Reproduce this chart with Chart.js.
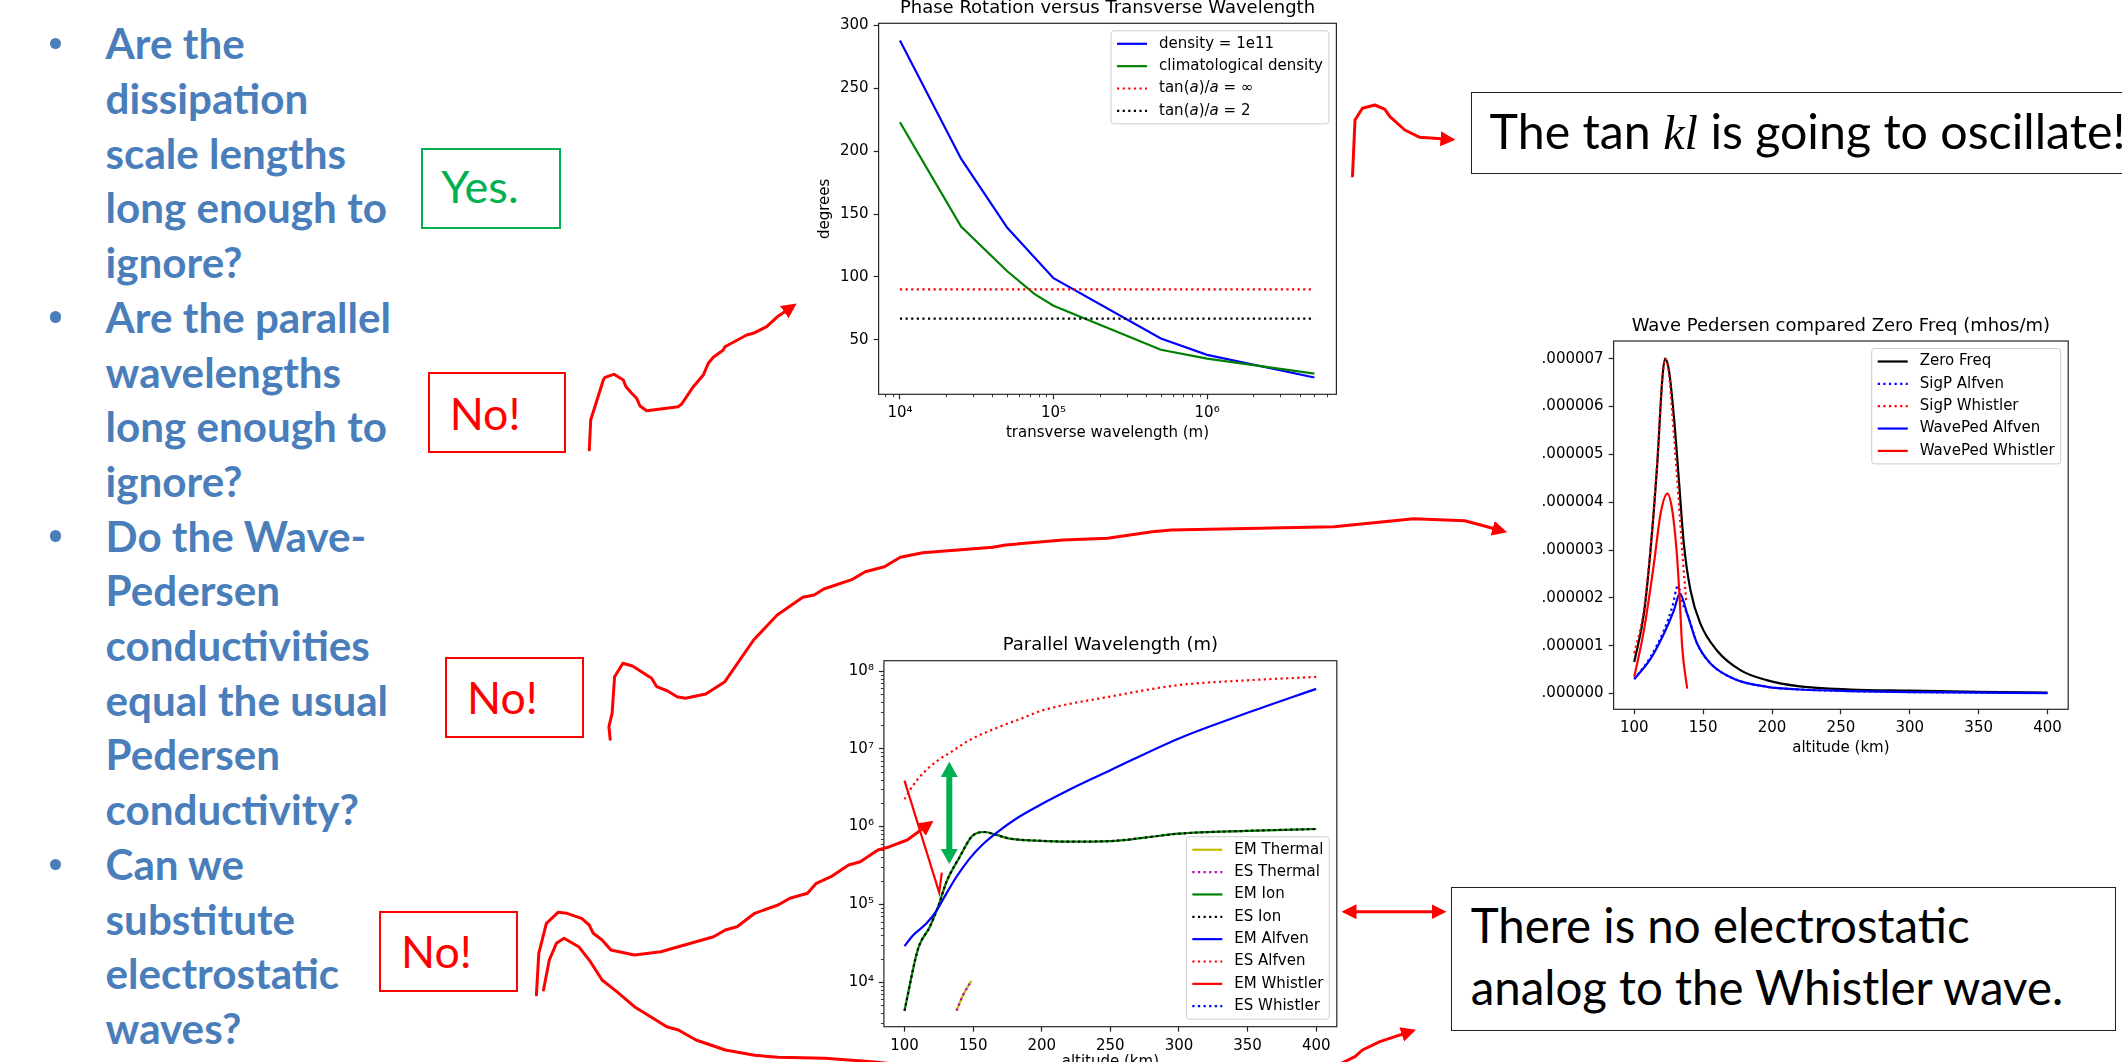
<!DOCTYPE html>
<html>
<head>
<meta charset="utf-8">
<script src="https://cdn.jsdelivr.net/npm/chart.js@4.4.1/dist/chart.umd.min.js"></script>
<style>
    html, body { margin: 0; padding: 0; }
    body { width: 2122px; height: 1062px; position: relative; overflow: hidden; background: #fff; font-family: Lato, "Open Sans", sans-serif; }
    canvas { position: absolute; }
    .txt { position: absolute; white-space: nowrap; }
    .box { position: absolute; box-sizing: border-box; }
    .dot { position: absolute; width: 11.5px; height: 11.5px; border-radius: 50%; background: #4a7ebb; }
    #bullets { font-weight: 700; color: #4a7ebb; font-size: 42px; line-height: 54.7px; }
    .red { color: #ff0000; font-size: 46px; line-height: 1.2; }
    .note { color: #000; font-size: 46px; }
    .math { font-family: "Liberation Serif", serif; font-style: italic; }
</style>
</head>
<body>

<!-- left hand questions -->
<div id="bullets" class="txt">Are the<br>dissipation<br>scale lengths<br><span class="ref">long enough to</span><br>ignore?<br>Are the parallel<br>wavelengths<br>long enough to<br>ignore?<br>Do the Wave-<br>Pedersen<br>conductivities<br>equal the usual<br>Pedersen<br>conductivity?<br>Can we<br>substitute<br>electrostatic<br>waves?</div>
<div class="dot" style="left:49.75px;top:37.5px"></div>
<div class="dot" style="left:49.75px;top:311px"></div>
<div class="dot" style="left:49.75px;top:530.3px"></div>
<div class="dot" style="left:49.75px;top:858.5px"></div>

<!-- answer boxes -->
<div class="box" style="left:421.4px;top:147.6px;width:139.3px;height:81px;border:2px solid #00b050"></div>
<div class="box" style="left:427.5px;top:372.4px;width:138.9px;height:81px;border:2px solid #ff0000"></div>
<div class="box" style="left:445px;top:657.2px;width:139.4px;height:81.3px;border:2px solid #ff0000"></div>
<div class="box" style="left:378.9px;top:910.6px;width:138.9px;height:81.2px;border:2px solid #ff0000"></div>
<div id="yes" class="txt red" style="color:#00b050">Yes.</div>
<div id="no1" class="txt red">No!</div>
<div id="no2" class="txt red">No!</div>
<div id="no3" class="txt red">No!</div>

<!-- note boxes -->
<div class="box" style="left:1471.2px;top:92.3px;width:680px;height:81.7px;border:1.5px solid #222"></div>
<div id="tanNote" class="txt note" style="line-height:1.2"><span class="ref">The tan <span class="math">kl</span> is going to oscillate</span>!</div>
<div class="box" style="left:1450.7px;top:887.3px;width:664.9px;height:143.4px;border:1.5px solid #222"></div>
<div id="esNote" class="txt note" style="line-height:61.7px">There is no electrostatic<br><span class="ref">analog to the Whistler wave.</span></div>

<canvas id="phaseChart" width="560" height="454" style="left:800px;top:-4px"></canvas>
<canvas id="pedersenChart" width="580" height="470" style="left:1520px;top:300px"></canvas>
<canvas id="parallelChart" width="560" height="460" style="left:800px;top:620px"></canvas>

<!-- hand drawn arrows -->
<svg width="2122" height="1062" style="position:absolute;left:0;top:0;pointer-events:none">
    <defs>
        <marker id="head" viewBox="0 0 10 10" refX="3" refY="5" markerWidth="5" markerHeight="5" orient="auto-start-reverse">
            <path d="M0,0 L10,5 L0,10 z" fill="#ff0000"/>
        </marker>
    </defs>
    <g fill="none" stroke="#ff0000" stroke-width="3" stroke-linejoin="round" stroke-linecap="round">
        <path marker-end="url(#head)" d="M589.3,450 L590.7,420 L593.3,411.7 L603.3,380 L605,377.3 L614,374.3 L623.3,380 L626,386.7 L631.7,393.3 L636.7,398.3 L640,406 L646.7,410.7 L678.3,406.7 L681.7,404 L693.3,386.7 L703.3,375 L708.3,363.3 L713.3,357.3 L723.3,350 L725,346.7 L746.7,335 L753.3,333.3 L766.7,326.7 L776.7,317.3 L788,309.5"/>
        <path marker-end="url(#head)" d="M610.2,739.3 L608.9,726.7 L612.1,713.3 L614.6,676.7 L622.9,663.3 L632.5,666 L651.6,678.3 L656.7,686.7 L667.6,691 L677.1,696.7 L685.4,698.3 L705.8,694 L724.9,681.7 L753.6,640 L777.2,615 L802.8,597.3 L814.2,595 L823.8,589 L852.5,579.3 L865.3,571.7 L884.4,566.7 L900.3,557.3 L922.7,552.7 L992.8,547.3 L1005.6,545 L1063,540 L1107.6,538.3 L1152.2,531.7 L1171.4,530 L1334,526.7 L1413.7,518.7 L1464.7,520.7 L1480.7,525 L1497,529.5"/>
        <path marker-end="url(#head)" d="M536.4,995 L538.8,953.3 L546.4,923.3 L558.1,912.3 L566.9,913.3 L581.6,918.3 L589.2,925 L593.3,933.3 L602.1,940 L610.9,950 L634.4,955 L660.8,951.7 L696,941.7 L713.6,936.7 L725.3,930 L737.1,926.7 L754.7,913.3 L778.1,905 L789.9,898.3 L807.5,893.3 L816.3,883.3 L831,876.7 L848.6,865 L860.3,861.7 L877.9,850 L889.6,846.7 L907.2,840 L925,827"/>
        <path marker-end="url(#head)" d="M543.5,990 L549.3,960 L556.4,943.3 L564,938.3 L578.7,946.7 L590.4,961.7 L602.1,980 L616.8,991.7 L634.4,1006.7 L666.7,1026.7 L678.4,1030 L696,1040 L725.3,1050 L754.7,1055.3 L778.1,1057.3 L825.1,1058.3 L872,1061.7 L1000,1075 L1300,1080 L1340,1064 L1355,1056.7 L1362.4,1050 L1379.9,1041.7 L1394.9,1036.7 L1406,1033"/>
        <path marker-start="url(#head)" marker-end="url(#head)" d="M1352,911.7 L1436,911.7"/>
        <path marker-end="url(#head)" d="M1352.5,176 L1355,120 L1362.4,108.3 L1374.9,105 L1384.9,109.3 L1389.9,116.7 L1404.8,130 L1419.8,137.3 L1445,139"/>
    </g>
    <polygon fill="#00b050" points="949.3,761.7 957.8,777 952.3,777 952.3,849 957.8,849 949.3,864 940.8,849 946.3,849 946.3,777 940.8,777"/>
</svg>

<script>
// ---------- Phase Rotation versus Transverse Wavelength ----------
const densityWavelength = [1e4, 2.5e4, 5e4, 1e5, 5e5, 1e6, 5e6];
const densityPhase = [288, 194, 139, 99, 51, 38, 20];
const climWavelength = [1e4, 2.5e4, 5e4, 7.5e4, 1e5, 5e5, 1e6, 5e6];
const climPhase = [223, 140, 104.5, 86.5, 77, 42, 35, 23];
const limitWavelength = [1e4, 5e6];
const tanInfinityPhase = [90, 90];
const tanTwoPhase = [66.8, 66.8];
const transverseTicks = [1e4, 1e5, 1e6];
const transverseTickLabels = ['10⁴', '10⁵', '10⁶'];
const degreeTicks = [50, 100, 150, 200, 250, 300];

// ---------- Wave Pedersen compared Zero Freq (values in 1e-6 mhos/m) ----------
const zeroAlt = [100, 107, 112, 116.7, 120.3, 122.3, 125.2, 128.8, 132.4, 136, 140.8, 148, 160, 177, 196, 220, 257, 300, 350, 400];
const zeroFreq = [0.66, 1.67, 3.06, 4.81, 6.55, 7.0, 6.75, 5.78, 4.46, 3.13, 2.16, 1.46, 0.9, 0.49, 0.28, 0.15, 0.084, 0.06, 0.035, 0.02];
const sigpAlfvenAlt = [100, 111.9, 121.5, 127.6, 131.6, 136, 138.4, 145.7, 155.3, 172.2, 196.4, 220.5, 256.7, 300, 350, 400];
const sigpAlfven = [0.30, 0.77, 1.32, 1.81, 2.24, 1.81, 1.67, 1.04, 0.63, 0.31, 0.14, 0.084, 0.05, 0.03, 0.02, 0.01];
const sigpWhistlerAlt = [100, 107, 112, 116.7, 120.3, 122.3, 125.2, 127.6, 130.7, 133.1, 135.5, 137.9];
const sigpWhistler = [0.84, 1.75, 3.1, 4.85, 6.55, 7.0, 6.7, 5.85, 4.67, 3.69, 2.72, 1.88];
const wavePedAlfvenAlt = [100, 111.9, 121.5, 128.8, 133.1, 138.4, 145.7, 155.3, 172.2, 196.4, 220.5, 256.7, 300, 350, 400];
const wavePedAlfven = [0.30, 0.73, 1.25, 1.74, 2.09, 1.67, 1.04, 0.63, 0.31, 0.14, 0.084, 0.05, 0.03, 0.02, 0.01];
const wavePedWhistlerAlt = [100, 107, 114.3, 119.1, 124, 127.6, 130.7, 132.9, 134.8, 138.4];
const wavePedWhistler = [0.35, 1.32, 2.72, 3.76, 4.18, 3.83, 2.99, 2.02, 0.97, 0.10];
const altitudeTicks = [100, 150, 200, 250, 300, 350, 400];
const conductTicks = [0, 1, 2, 3, 4, 5, 6, 7];
const conductTickLabels = ['.000000', '.000001', '.000002', '.000003', '.000004', '.000005', '.000006', '.000007'];

// ---------- Parallel Wavelength (m) ----------
const thermalAlt = [137.9, 142.7, 148.8];
const thermalWavelength = [4.28e3, 6.8e3, 1.04e4];
const ionAlt = [100, 110, 118.5, 124.5, 130.6, 140.3, 148.8, 152.5, 158.5, 167, 176.7, 196, 220, 250, 275, 300, 350, 400];
const ionWavelength = [4.28e3, 2.71e4, 5.14e4, 9.3e4, 1.95e5, 4.09e5, 7.4e5, 8.2e5, 8.5e5, 7.8e5, 7.0e5, 6.6e5, 6.4e5, 6.5e5, 7.2e5, 8.1e5, 8.8e5, 9.3e5];
const alfvenAlt = [100, 106.3, 116.1, 123.4, 130.6, 137.9, 147.6, 157.3, 167, 181.6, 201, 220.4, 250, 300, 350, 400];
const emAlfvenWavelength = [2.9e4, 4.0e4, 5.7e4, 8.3e4, 1.38e5, 2.26e5, 3.9e5, 5.95e5, 8.3e5, 1.27e6, 1.99e6, 3.0e6, 5.3e6, 1.36e7, 2.9e7, 5.9e7];
const esAlfvenAlt = [100, 106.3, 114.8, 123.4, 133.1, 147.6, 167, 186.4, 200, 250, 300, 350, 400];
const esAlfvenWavelength = [2.24e6, 3.4e6, 5.1e6, 6.9e6, 8.9e6, 1.3e7, 1.85e7, 2.5e7, 3.1e7, 4.7e7, 6.6e7, 7.6e7, 8.4e7];
const whistlerAlt = [100, 125.3, 127.2];
const emWhistlerWavelength = [3.9e6, 1.41e5, 2.55e5];
const esWhistlerAlt = [];
const esWhistlerWavelength = [];
const wavelengthTicks = [1e4, 1e5, 1e6, 1e7, 1e8];
const wavelengthTickLabels = ['10⁴', '10⁵', '10⁶', '10⁷', '10⁸'];

Chart.defaults.font.family = "'DejaVu Sans', sans-serif";
Chart.defaults.font.size = 15;
Chart.defaults.color = '#000';

// matplotlib-ish line helper
function series(xs, ys, label, color, dotted, smooth) {
    return {
        label: label,
        data: xs.map((x, i) => ({ x: x, y: ys[i] })),
        borderColor: color,
        backgroundColor: color,
        borderWidth: 2.2,
        borderDash: dotted ? [2.2, 3.4] : [],
        borderCapStyle: 'butt',
        pointRadius: 0,
        showLine: true,
        fill: false,
        tension: 0,
        cubicInterpolationMode: smooth ? 'monotone' : 'default'
    };
}

function tickMarks() {
    return { display: true, drawOnChartArea: false, drawTicks: true, tickLength: 5, tickColor: '#262626', tickWidth: 1.2 };
}

function fixedTicks(values, labels) {
    return {
        afterBuildTicks: scale => { scale.ticks = values.map(v => ({ value: v })); },
        ticks: {
            padding: 5, autoSkip: false, maxRotation: 0, minRotation: 0, color: '#000',
            callback: v => labels[values.indexOf(v)] ?? ''
        }
    };
}

// axes frame (all four spines)
const frame = {
    id: 'frame',
    afterDatasetsDraw(chart) {
        const { ctx, chartArea: a } = chart;
        ctx.save();
        ctx.strokeStyle = '#262626';
        ctx.lineWidth = 1.2;
        ctx.setLineDash([]);
        ctx.strokeRect(a.left, a.top, a.width, a.height);
        ctx.restore();
    }
};

// short ticks between the decades of a log axis
const minorTicks = {
    id: 'minorTicks',
    afterDraw(chart, args, opts) {
        if (!opts || !opts.axis) return;
        const scale = chart.scales[opts.axis];
        const ctx = chart.ctx;
        const lo = Math.floor(Math.log10(scale.min)), hi = Math.ceil(Math.log10(scale.max));
        ctx.save();
        ctx.strokeStyle = '#262626';
        ctx.lineWidth = 0.9;
        for (let e = lo; e <= hi; e++) {
            for (let m = 2; m <= 9; m++) {
                const v = m * Math.pow(10, e);
                if (v < scale.min || v > scale.max) continue;
                const p = Math.round(scale.getPixelForValue(v)) + 0.5;
                ctx.beginPath();
                if (scale.isHorizontal()) { ctx.moveTo(p, scale.top); ctx.lineTo(p, scale.top + 3); }
                else { ctx.moveTo(scale.right, p); ctx.lineTo(scale.right - 3, p); }
                ctx.stroke();
            }
        }
        ctx.restore();
    }
};

// matplotlib style legend inside the axes; *x* in a label is drawn italic
function richParts(label) {
    return label.split('*').map((t, i) => ({ t: t, it: i % 2 === 1 }));
}
const boxLegend = {
    id: 'boxLegend',
    afterDraw(chart, args, opts) {
        const { ctx, chartArea: a } = chart;
        const items = chart.data.datasets;
        const plain = "15px 'DejaVu Sans'", italic = "italic 15px 'DejaVu Sans'";
        ctx.save();
        const widthOf = label => richParts(label).reduce((s, p) => {
            ctx.font = p.it ? italic : plain;
            return s + ctx.measureText(p.t).width;
        }, 0);
        const textW = Math.max(...items.map(d => widthOf(d.label)));
        const w = 48 + textW + 6;
        const h = 11 + (items.length - 1) * 22.35 + 15;
        const x = a.right - 7.5 - w;
        const y = opts.corner === 'bottom' ? a.bottom - 7.5 - h : a.top + 7.5;
        ctx.beginPath();
        ctx.roundRect(x, y, w, h, 3);
        ctx.fillStyle = 'rgba(255,255,255,0.8)';
        ctx.fill();
        ctx.strokeStyle = '#cccccc';
        ctx.lineWidth = 1;
        ctx.stroke();
        items.forEach((d, i) => {
            const cy = y + 13 + i * 22.35;
            ctx.beginPath();
            ctx.setLineDash(d.borderDash || []);
            ctx.strokeStyle = d.borderColor;
            ctx.lineWidth = 2.2;
            ctx.moveTo(x + 6, cy);
            ctx.lineTo(x + 36, cy);
            ctx.stroke();
            ctx.setLineDash([]);
            ctx.fillStyle = '#000';
            ctx.textBaseline = 'middle';
            let tx = x + 48;
            richParts(d.label).forEach(p => {
                ctx.font = p.it ? italic : plain;
                ctx.fillText(p.t, tx, cy);
                tx += ctx.measureText(p.t).width;
            });
        });
        ctx.restore();
    }
};

function titleOpts(text, top, bottom) {
    return { display: true, text: text, fullSize: false, color: '#000',
             font: { size: 18, weight: 'normal', lineHeight: 1 }, padding: { top: top, bottom: bottom } };
}

function axisTitle(text, padding) {
    return { display: true, text: text, color: '#000', font: { size: 15, lineHeight: 1.2 }, padding: padding };
}

// draw the later datasets on top, like matplotlib
function stackOrder(datasets) {
    datasets.forEach((d, i) => { d.order = -i; });
    return datasets;
}

// 1. Phase rotation chart
new Chart(document.getElementById('phaseChart'), {
    type: 'scatter',
    data: {
        datasets: stackOrder([
            series(densityWavelength, densityPhase, 'density = 1e11', '#0000ff', false, false),
            series(climWavelength, climPhase, 'climatological density', '#008000', false, false),
            series(limitWavelength, tanInfinityPhase, 'tan(*a*)/*a* = ∞', '#ff0000', true, false),
            series(limitWavelength, tanTwoPhase, 'tan(*a*)/*a* = 2', '#000000', true, false)
        ])
    },
    options: {
        responsive: false, animation: false, devicePixelRatio: 1,
        layout: { padding: { left: 0, right: 23.6, top: 0, bottom: 0 } },
        plugins: {
            legend: { display: false }, tooltip: { enabled: false },
            title: titleOpts('Phase Rotation versus Transverse Wavelength', 3, 6.3),
            boxLegend: { corner: 'top' },
            minorTicks: { axis: 'x' }
        },
        scales: {
            x: Object.assign({
                type: 'logarithmic', min: Math.pow(10, 3.861), max: Math.pow(10, 6.842),
                grid: tickMarks(), border: { display: false },
                title: axisTitle('transverse wavelength (m)', { top: 0, bottom: 8 }),
                afterFit: s => { s.height = 55.7; }
            }, fixedTicks(transverseTicks, transverseTickLabels)),
            y: Object.assign({
                type: 'linear', min: 6.6, max: 301.7,
                grid: tickMarks(), border: { display: false },
                title: axisTitle('degrees', { top: 16, bottom: 0 }),
                afterFit: s => { s.width = 78.6; }
            }, fixedTicks(degreeTicks, degreeTicks.map(String)))
        }
    },
    plugins: [frame, minorTicks, boxLegend]
});

// 2. Wave Pedersen chart
new Chart(document.getElementById('pedersenChart'), {
    type: 'scatter',
    data: {
        datasets: stackOrder([
            series(zeroAlt, zeroFreq, 'Zero Freq', '#000000', false, true),
            series(sigpAlfvenAlt, sigpAlfven, 'SigP Alfven', '#0000ff', true, true),
            series(sigpWhistlerAlt, sigpWhistler, 'SigP Whistler', '#ff0000', true, true),
            series(wavePedAlfvenAlt, wavePedAlfven, 'WavePed Alfven', '#0000ff', false, true),
            series(wavePedWhistlerAlt, wavePedWhistler, 'WavePed Whistler', '#ff0000', false, true)
        ])
    },
    options: {
        responsive: false, animation: false, devicePixelRatio: 1,
        layout: { padding: { left: 0, right: 31.8, top: 0, bottom: 0 } },
        plugins: {
            legend: { display: false }, tooltip: { enabled: false },
            title: titleOpts('Wave Pedersen compared Zero Freq (mhos/m)', 17, 6),
            boxLegend: { corner: 'top' }
        },
        scales: {
            x: Object.assign({
                type: 'linear', min: 85, max: 415,
                grid: tickMarks(), border: { display: false },
                title: axisTitle('altitude (km)', { top: 0, bottom: 13.3 }),
                afterFit: s => { s.height = 60.7; }
            }, fixedTicks(altitudeTicks, altitudeTicks.map(String))),
            y: Object.assign({
                type: 'linear', min: -0.33, max: 7.37,
                grid: tickMarks(), border: { display: false },
                afterFit: s => { s.width = 93.6; }
            }, fixedTicks(conductTicks, conductTickLabels))
        }
    },
    plugins: [frame, boxLegend]
});

// 3. Parallel wavelength chart
new Chart(document.getElementById('parallelChart'), {
    type: 'scatter',
    data: {
        datasets: stackOrder([
            series(thermalAlt, thermalWavelength, 'EM Thermal', '#bfbf00', false, true),
            series(thermalAlt, thermalWavelength, 'ES Thermal', '#bf00bf', true, true),
            series(ionAlt, ionWavelength, 'EM Ion', '#008000', false, true),
            series(ionAlt, ionWavelength, 'ES Ion', '#000000', true, true),
            series(alfvenAlt, emAlfvenWavelength, 'EM Alfven', '#0000ff', false, true),
            series(esAlfvenAlt, esAlfvenWavelength, 'ES Alfven', '#ff0000', true, true),
            series(whistlerAlt, emWhistlerWavelength, 'EM Whistler', '#ff0000', false, false),
            series(esWhistlerAlt, esWhistlerWavelength, 'ES Whistler', '#0000ff', true, false)
        ])
    },
    options: {
        responsive: false, animation: false, devicePixelRatio: 1,
        layout: { padding: { left: 0, right: 23.2, top: 0, bottom: 0 } },
        plugins: {
            legend: { display: false }, tooltip: { enabled: false },
            title: titleOpts('Parallel Wavelength (m)', 16, 6.7),
            boxLegend: { corner: 'bottom' },
            minorTicks: { axis: 'y' }
        },
        scales: {
            x: Object.assign({
                type: 'linear', min: 85, max: 415,
                grid: tickMarks(), border: { display: false },
                title: axisTitle('altitude (km)', { top: 0, bottom: 9.3 }),
                afterFit: s => { s.height = 53.3; }
            }, fixedTicks(altitudeTicks, altitudeTicks.map(String))),
            y: Object.assign({
                type: 'logarithmic', min: Math.pow(10, 3.4255), max: Math.pow(10, 8.133),
                grid: tickMarks(), border: { display: false },
                afterFit: s => { s.width = 83.9; }
            }, fixedTicks(wavelengthTicks, wavelengthTickLabels))
        }
    },
    plugins: [frame, minorTicks, boxLegend]
});

// ---------- slide text: scale each block to the reference width, then sit it on its baseline ----------
const textSpots = [
    // id, left, first baseline, width of the .ref text
    ['bullets', 105.6, 59.3, 281.3],
    ['yes', 441.3, 203.4, 77.3],
    ['no1', 449.7, 430, 70.8],
    ['no2', 467, 713.6, 70.8],
    ['no3', 401, 967.6, 70.8],
    ['tanNote', 1489.6, 149.3, 623],
    ['esNote', 1470.7, 943.3, 592.5]
];

function fitWidth(el, target) {
    const ref = el.querySelector('.ref') || el;
    const w = ref.getBoundingClientRect().width;
    const size = parseFloat(getComputedStyle(el).fontSize);
    el.style.fontSize = (size * target / w).toFixed(2) + 'px';
}

function pinBaseline(el, baseline) {
    const probe = document.createElement('span');
    probe.style.cssText = 'display:inline-block;width:0;height:0;';
    el.prepend(probe);
    const y = probe.getBoundingClientRect().top;
    probe.remove();
    el.style.top = (parseFloat(el.style.top) + baseline - y) + 'px';
}

document.fonts.ready.then(() => {
    textSpots.forEach(([id, left, base, width]) => {
        const el = document.getElementById(id);
        el.style.left = left + 'px';
        el.style.top = '0px';
        fitWidth(el, width);
        pinBaseline(el, base);
    });
});
</script>
</body>
</html>
